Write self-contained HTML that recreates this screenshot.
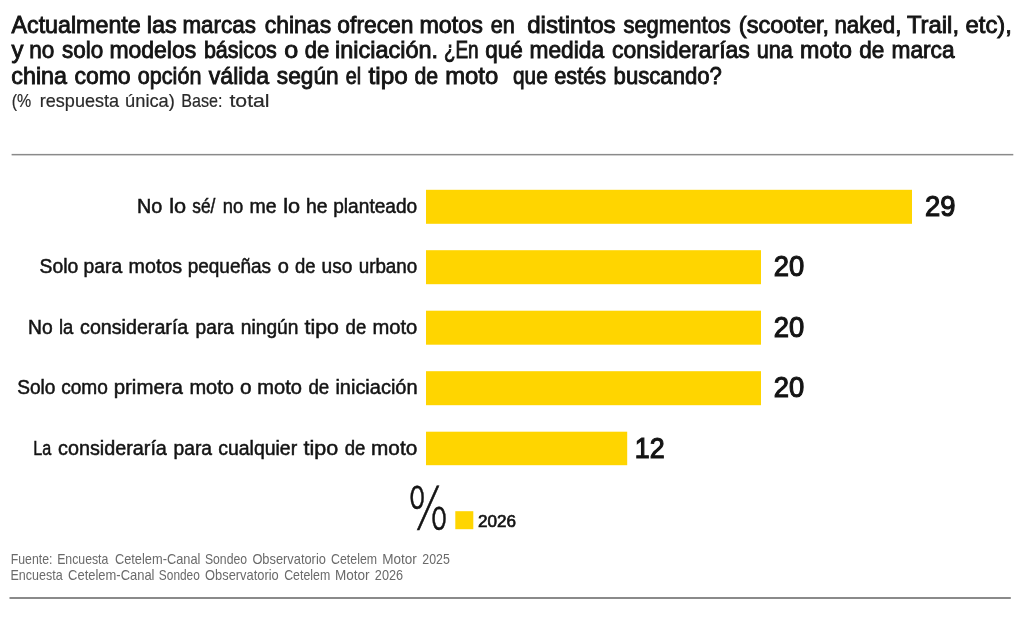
<!DOCTYPE html>
<html lang="es">
<head>
<meta charset="utf-8">
<title>Motos de marca china</title>
<style>
html,body{margin:0;padding:0;background:#fff;}
body{width:1024px;height:644px;overflow:hidden;font-family:"Liberation Sans",sans-serif;}
svg{display:block;}
text{font-family:"Liberation Sans",sans-serif;fill:#141414;white-space:pre;}
.t{font-size:24.3px;stroke:#141414;stroke-width:.9px;}
.s{font-size:18.6px;fill:#2a2a2a;stroke:#2a2a2a;stroke-width:.2px;}
.l{font-size:19.4px;stroke:#141414;stroke-width:.5px;}
.n{font-size:28.6px;stroke:#141414;stroke-width:1.15px;}
.f{font-size:14.5px;fill:#6a6a6a;}
.g{font-size:17.1px;stroke:#141414;stroke-width:.65px;}
.p{font-family:"DejaVu Sans Light","DejaVu Sans",sans-serif;font-weight:200;font-size:57.9px;stroke:#141414;stroke-width:.6px;}
</style>
</head>
<body>
<svg width="1024" height="644" viewBox="0 0 1024 644">
<rect width="1024" height="644" fill="#fff"/>
<!-- title -->
<text class="t" y="32.5"><tspan x="11.50" textLength="129.22" lengthAdjust="spacingAndGlyphs">Actualmente</tspan> <tspan x="146.76" textLength="29.99" lengthAdjust="spacingAndGlyphs">las</tspan> <tspan x="182.43" textLength="73.52" lengthAdjust="spacingAndGlyphs">marcas</tspan> <tspan x="264.75" textLength="66.36" lengthAdjust="spacingAndGlyphs">chinas</tspan> <tspan x="337.35" textLength="76.13" lengthAdjust="spacingAndGlyphs">ofrecen</tspan> <tspan x="419.39" textLength="63.44" lengthAdjust="spacingAndGlyphs">motos</tspan> <tspan x="490.70" textLength="24.03" lengthAdjust="spacingAndGlyphs">en</tspan> <tspan x="527.21" textLength="88.43" lengthAdjust="spacingAndGlyphs">distintos</tspan> <tspan x="623.42" textLength="107.44" lengthAdjust="spacingAndGlyphs">segmentos</tspan> <tspan x="738.87" textLength="90.20" lengthAdjust="spacingAndGlyphs">(scooter,</tspan> <tspan x="834.40" textLength="66.96" lengthAdjust="spacingAndGlyphs">naked,</tspan> <tspan x="906.88" textLength="52.19" lengthAdjust="spacingAndGlyphs">Trail,</tspan> <tspan x="965.57" textLength="46.32" lengthAdjust="spacingAndGlyphs">etc),</tspan></text>
<text class="t" y="58.2"><tspan x="11.38" textLength="11.94" lengthAdjust="spacingAndGlyphs">y</tspan> <tspan x="29.31" textLength="25.04" lengthAdjust="spacingAndGlyphs">no</tspan> <tspan x="61.98" textLength="41.19" lengthAdjust="spacingAndGlyphs">solo</tspan> <tspan x="109.47" textLength="86.71" lengthAdjust="spacingAndGlyphs">modelos</tspan> <tspan x="203.90" textLength="72.97" lengthAdjust="spacingAndGlyphs">básicos</tspan> <tspan x="284.24" textLength="13.97" lengthAdjust="spacingAndGlyphs">o</tspan> <tspan x="304.83" textLength="24.38" lengthAdjust="spacingAndGlyphs">de</tspan> <tspan x="335.04" textLength="103.12" lengthAdjust="spacingAndGlyphs">iniciación.</tspan> <tspan x="443.95" textLength="34.68" lengthAdjust="spacingAndGlyphs">¿En</tspan> <tspan x="485.30" textLength="37.48" lengthAdjust="spacingAndGlyphs">qué</tspan> <tspan x="529.48" textLength="74.57" lengthAdjust="spacingAndGlyphs">medida</tspan> <tspan x="612.06" textLength="137.80" lengthAdjust="spacingAndGlyphs">considerarías</tspan> <tspan x="756.70" textLength="36.07" lengthAdjust="spacingAndGlyphs">una</tspan> <tspan x="800.12" textLength="51.76" lengthAdjust="spacingAndGlyphs">moto</tspan> <tspan x="859.29" textLength="25.00" lengthAdjust="spacingAndGlyphs">de</tspan> <tspan x="891.45" textLength="63.17" lengthAdjust="spacingAndGlyphs">marca</tspan></text>
<text class="t" y="84.3"><tspan x="11.37" textLength="55.66" lengthAdjust="spacingAndGlyphs">china</tspan> <tspan x="74.40" textLength="56.27" lengthAdjust="spacingAndGlyphs">como</tspan> <tspan x="137.85" textLength="63.55" lengthAdjust="spacingAndGlyphs">opción</tspan> <tspan x="208.83" textLength="60.28" lengthAdjust="spacingAndGlyphs">válida</tspan> <tspan x="276.87" textLength="61.74" lengthAdjust="spacingAndGlyphs">según</tspan> <tspan x="345.70" textLength="15.35" lengthAdjust="spacingAndGlyphs">el</tspan> <tspan x="368.62" textLength="39.24" lengthAdjust="spacingAndGlyphs">tipo</tspan> <tspan x="414.39" textLength="23.61" lengthAdjust="spacingAndGlyphs">de</tspan> <tspan x="445.15" textLength="53.06" lengthAdjust="spacingAndGlyphs">moto</tspan> <tspan x="513.04" textLength="34.65" lengthAdjust="spacingAndGlyphs">que</tspan> <tspan x="554.30" textLength="51.72" lengthAdjust="spacingAndGlyphs">estés</tspan> <tspan x="613.62" textLength="108.30" lengthAdjust="spacingAndGlyphs">buscando?</tspan></text>
<text class="s" y="107.2"><tspan x="11.69" textLength="19.52" lengthAdjust="spacingAndGlyphs">(%</tspan> <tspan x="39.77" textLength="79.35" lengthAdjust="spacingAndGlyphs">respuesta</tspan> <tspan x="125.09" textLength="49.75" lengthAdjust="spacingAndGlyphs">única)</tspan> <tspan x="181.23" textLength="41.24" lengthAdjust="spacingAndGlyphs">Base:</tspan> <tspan x="229.43" textLength="40.14" lengthAdjust="spacingAndGlyphs">total</tspan></text>
<!-- rules -->
<rect x="11.6" y="153.9" width="1001.7" height="1.5" fill="#8a8a8a"/>
<rect x="9.5" y="597" width="1001.3" height="2" fill="#8a8a8a"/>
<!-- bars -->
<g fill="#FFD500">
<rect x="426" y="189.8" width="486" height="34"/>
<rect x="426" y="250.2" width="335" height="34"/>
<rect x="426" y="310.7" width="335" height="34"/>
<rect x="426" y="371.2" width="335" height="34"/>
<rect x="426" y="431.7" width="201.2" height="33.5"/>
<rect x="455.3" y="511.2" width="18" height="18"/>
</g>
<!-- labels, values, legend, footer -->
<text class="l" y="212.65"><tspan x="137.02" textLength="25.33" lengthAdjust="spacingAndGlyphs">No</tspan> <tspan x="169.15" textLength="16.91" lengthAdjust="spacingAndGlyphs">lo</tspan> <tspan x="192.37" textLength="23.04" lengthAdjust="spacingAndGlyphs">sé/</tspan> <tspan x="222.73" textLength="20.44" lengthAdjust="spacingAndGlyphs">no</tspan> <tspan x="249.42" textLength="27.09" lengthAdjust="spacingAndGlyphs">me</tspan> <tspan x="283.19" textLength="16.92" lengthAdjust="spacingAndGlyphs">lo</tspan> <tspan x="305.90" textLength="21.61" lengthAdjust="spacingAndGlyphs">he</tspan> <tspan x="333.24" textLength="83.98" lengthAdjust="spacingAndGlyphs">planteado</tspan></text>
<text class="l" y="273.1"><tspan x="39.51" textLength="38.74" lengthAdjust="spacingAndGlyphs">Solo</tspan> <tspan x="83.58" textLength="38.64" lengthAdjust="spacingAndGlyphs">para</tspan> <tspan x="128.59" textLength="53.59" lengthAdjust="spacingAndGlyphs">motos</tspan> <tspan x="187.65" textLength="83.41" lengthAdjust="spacingAndGlyphs">pequeñas</tspan> <tspan x="277.80" textLength="11.17" lengthAdjust="spacingAndGlyphs">o</tspan> <tspan x="294.88" textLength="20.55" lengthAdjust="spacingAndGlyphs">de</tspan> <tspan x="321.61" textLength="30.84" lengthAdjust="spacingAndGlyphs">uso</tspan> <tspan x="358.66" textLength="58.64" lengthAdjust="spacingAndGlyphs">urbano</tspan></text>
<text class="l" y="333.6"><tspan x="28.05" textLength="24.67" lengthAdjust="spacingAndGlyphs">No</tspan> <tspan x="58.99" textLength="14.31" lengthAdjust="spacingAndGlyphs">la</tspan> <tspan x="80.07" textLength="108.26" lengthAdjust="spacingAndGlyphs">consideraría</tspan> <tspan x="195.62" textLength="38.30" lengthAdjust="spacingAndGlyphs">para</tspan> <tspan x="240.81" textLength="57.58" lengthAdjust="spacingAndGlyphs">ningún</tspan> <tspan x="304.54" textLength="34.41" lengthAdjust="spacingAndGlyphs">tipo</tspan> <tspan x="345.62" textLength="20.63" lengthAdjust="spacingAndGlyphs">de</tspan> <tspan x="372.41" textLength="44.93" lengthAdjust="spacingAndGlyphs">moto</tspan></text>
<text class="l" y="394.1"><tspan x="17.17" textLength="38.28" lengthAdjust="spacingAndGlyphs">Solo</tspan> <tspan x="61.18" textLength="46.74" lengthAdjust="spacingAndGlyphs">como</tspan> <tspan x="113.71" textLength="69.17" lengthAdjust="spacingAndGlyphs">primera</tspan> <tspan x="189.44" textLength="44.53" lengthAdjust="spacingAndGlyphs">moto</tspan> <tspan x="240.14" textLength="11.61" lengthAdjust="spacingAndGlyphs">o</tspan> <tspan x="257.35" textLength="44.67" lengthAdjust="spacingAndGlyphs">moto</tspan> <tspan x="308.40" textLength="20.82" lengthAdjust="spacingAndGlyphs">de</tspan> <tspan x="335.42" textLength="82.16" lengthAdjust="spacingAndGlyphs">iniciación</tspan></text>
<text class="l" y="454.6"><tspan x="33.26" textLength="17.99" lengthAdjust="spacingAndGlyphs">La</tspan> <tspan x="58.00" textLength="108.89" lengthAdjust="spacingAndGlyphs">consideraría</tspan> <tspan x="173.51" textLength="38.52" lengthAdjust="spacingAndGlyphs">para</tspan> <tspan x="218.21" textLength="78.97" lengthAdjust="spacingAndGlyphs">cualquier</tspan> <tspan x="303.44" textLength="34.69" lengthAdjust="spacingAndGlyphs">tipo</tspan> <tspan x="344.65" textLength="20.68" lengthAdjust="spacingAndGlyphs">de</tspan> <tspan x="371.07" textLength="46.18" lengthAdjust="spacingAndGlyphs">moto</tspan></text>
<text class="n" x="924.96" y="215.8" textLength="30.47" lengthAdjust="spacingAndGlyphs">29</text>
<text class="n" x="773.67" y="276.2" textLength="30.46" lengthAdjust="spacingAndGlyphs">20</text>
<text class="n" x="773.67" y="336.7" textLength="30.46" lengthAdjust="spacingAndGlyphs">20</text>
<text class="n" x="773.67" y="397.2" textLength="30.46" lengthAdjust="spacingAndGlyphs">20</text>
<text class="n" x="634.78" y="457.5" textLength="29.85" lengthAdjust="spacingAndGlyphs">12</text>
<text class="g" x="478.06" y="526.6" textLength="38.04" lengthAdjust="spacingAndGlyphs">2026</text>
<text class="p" transform="translate(407.5 529.2) scale(0.75 1)">%</text>
<!-- footer -->
<text class="f" y="564.4"><tspan x="10.76" textLength="41.69" lengthAdjust="spacingAndGlyphs">Fuente:</tspan> <tspan x="57.13" textLength="51.26" lengthAdjust="spacingAndGlyphs">Encuesta</tspan> <tspan x="114.91" textLength="85.49" lengthAdjust="spacingAndGlyphs">Cetelem-Canal</tspan> <tspan x="204.91" textLength="42.15" lengthAdjust="spacingAndGlyphs">Sondeo</tspan> <tspan x="252.39" textLength="73.50" lengthAdjust="spacingAndGlyphs">Observatorio</tspan> <tspan x="331.08" textLength="46.01" lengthAdjust="spacingAndGlyphs">Cetelem</tspan> <tspan x="382.30" textLength="34.59" lengthAdjust="spacingAndGlyphs">Motor</tspan> <tspan x="422.27" textLength="27.54" lengthAdjust="spacingAndGlyphs">2025</tspan></text>
<text class="f" y="579.7"><tspan x="10.45" textLength="52.17" lengthAdjust="spacingAndGlyphs">Encuesta</tspan> <tspan x="68.07" textLength="86.45" lengthAdjust="spacingAndGlyphs">Cetelem-Canal</tspan> <tspan x="158.87" textLength="40.97" lengthAdjust="spacingAndGlyphs">Sondeo</tspan> <tspan x="205.06" textLength="73.68" lengthAdjust="spacingAndGlyphs">Observatorio</tspan> <tspan x="284.17" textLength="46.05" lengthAdjust="spacingAndGlyphs">Cetelem</tspan> <tspan x="335.05" textLength="34.57" lengthAdjust="spacingAndGlyphs">Motor</tspan> <tspan x="374.86" textLength="28.22" lengthAdjust="spacingAndGlyphs">2026</tspan></text>
</svg>
</body>
</html>
